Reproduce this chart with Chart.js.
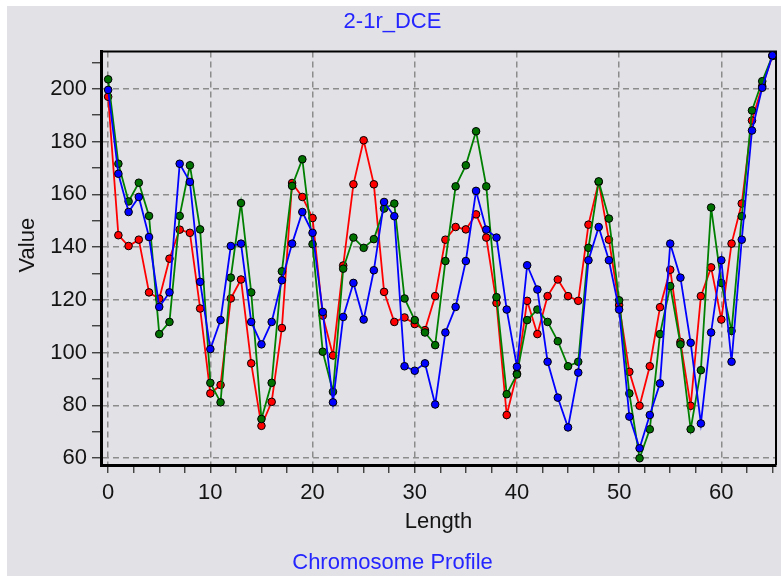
<!DOCTYPE html>
<html><head><meta charset="utf-8">
<script src="https://cdn.jsdelivr.net/npm/chart.js@4/dist/chart.umd.min.js"></script>
<style>html,body{margin:0;padding:0;background:#fff;overflow:hidden}#c{display:block}</style>
</head><body>
<canvas id="c" width="781" height="576"></canvas>
<script>
// ---- data ----
const lengths = [0,1,2,3,4,5,6,7,8,9,10,11,12,13,14,15,16,17,18,19,20,21,22,23,24,25,26,27,28,29,30,31,32,33,34,35,36,37,38,39,40,41,42,43,44,45,46,47,48,49,50,51,52,53,54,55,56,57,58,59,60,61,62,63,64,65];
const redValues = [197,144.5,140.4,142.8,122.8,120.4,135.6,146.6,145.4,116.7,84.5,87.7,120.5,127.7,95.9,72.2,81.3,109.3,164.3,159.0,151.0,114,98.9,133,163.8,180.5,163.8,123.0,111.6,113.3,110.8,108.5,121.4,142.8,147.6,146.7,152.4,143.6,118.8,76.3,92,119.6,107.0,121.4,127.7,121.4,119.6,148.5,164.7,142.8,118,92.7,79.8,94.8,117.2,131.4,104,79.8,121.4,132.3,112.5,141.3,156.5,188,201,212.5];
const greenValues = [203.6,171.6,157.3,164.4,151.8,107.0,111.6,151.8,171.0,146.7,88.5,81.1,128.4,156.7,122.8,74.8,88.5,130.8,163.2,173.3,141.1,100.3,85.1,131.8,143.6,139.7,143.0,154.6,156.5,120.5,112.3,107.6,102.8,134.7,163.0,171.0,183.9,163.0,121,84.2,91.7,112.3,116.3,111.6,104.3,94.8,96.5,139.7,164.9,150.8,119.8,84.5,59.9,70.9,107.0,125.2,103.1,70.9,93.3,155.0,126.4,108.2,151.7,191.8,202.9,212.5];
const blueValues = [199.6,167.8,153.3,159.0,143.8,117.3,122.8,171.6,164.7,126.8,101.3,112.3,140.4,141.3,111.6,103.1,111.6,127.4,141.3,153.3,145.4,115.4,81.1,113.5,126.4,112.5,131.2,157.1,151.7,94.8,93.1,95.9,80.3,107.6,117.3,134.7,161.3,146.6,143.6,116.3,94.6,133.1,123.9,96.5,82.9,71.6,92.4,135.0,147.6,135.0,116.3,75.7,63.7,76.3,88.3,141.3,128.4,103.7,73.1,107.6,135.0,96.5,142.8,184.2,200.4,212.7];
const xTickValues = [0,2.5,5,7.5,10,12.5,15,17.5,20,22.5,25,27.5,30,32.5,35,37.5,40,42.5,45,47.5,50,52.5,55,57.5,60,62.5,65];
const xLabelValues = [0,10,20,30,40,50,60];
const yTickValues = [60,70,80,90,100,110,120,130,140,150,160,170,180,190,200,210];
const yLabelValues = [60,80,100,120,140,160,180,200];

const FONT = '"Liberation Sans", Arial, sans-serif';
const BG = '#e1e1e6';
const toPoints = vals => lengths.map((x, i) => ({x: x, y: vals[i]}));

const bgPlugin = {
  id: 'bg',
  beforeDraw(chart) {
    const ctx = chart.ctx;
    ctx.save();
    ctx.fillStyle = '#ffffff';
    ctx.fillRect(0, 0, chart.width, chart.height);
    ctx.fillStyle = BG;
    ctx.fillRect(7, 6, chart.width - 7, chart.height - 6);
    ctx.restore();
  },
  beforeDatasetsDraw(chart) {
    const a = chart.chartArea, ctx = chart.ctx;
    ctx.save();
    ctx.strokeStyle = '#000';
    ctx.lineWidth = 2;
    ctx.beginPath();
    ctx.moveTo(a.left, a.top);
    ctx.lineTo(a.right, a.top);
    ctx.lineTo(a.right, a.bottom);
    ctx.stroke();
    ctx.restore();
  },
  afterDraw(chart) {
    const ctx = chart.ctx, a = chart.chartArea;
    ctx.save();
    ctx.translate(28, (a.top + a.bottom) / 2 - 13);
    ctx.rotate(-Math.PI / 2);
    ctx.font = '22px ' + FONT;
    ctx.fillStyle = '#141414';
    ctx.textAlign = 'center';
    ctx.textBaseline = 'middle';
    ctx.fillText('Value', 0, 0);
    ctx.restore();
  }
};

function ds(label, vals, line, fill) {
  return {
    label: label, data: toPoints(vals), borderColor: line, backgroundColor: fill,
    borderWidth: 1.8, pointRadius: 3.8, pointBackgroundColor: fill, pointBorderColor: '#000',
    pointBorderWidth: 1, tension: 0, clip: 8
  };
}

new Chart(document.getElementById('c'), {
  type: 'line',
  data: {
    datasets: [
      ds('Blue', blueValues, '#0000ff', '#0000ff'),
      ds('Green', greenValues, '#008000', '#007000'),
      ds('Red', redValues, '#ff0000', '#ff0000')
    ]
  },
  plugins: [bgPlugin],
  options: {
    responsive: false, devicePixelRatio: 1, animation: false,
    layout: { padding: { left: 7, right: 3, top: 0, bottom: 0 } },
    plugins: {
      legend: { display: false }, tooltip: { enabled: false },
      title: { display: true, text: '2-1r_DCE', color: '#2525ff', font: { family: FONT, size: 22, weight: 'normal' }, padding: { top: 9, bottom: 16 } },
      subtitle: { display: true, position: 'bottom', text: 'Chromosome Profile', color: '#2525ff', font: { family: FONT, size: 22, weight: 'normal' }, padding: { top: 8, bottom: 0 } }
    },
    scales: {
      x: {
        type: 'linear', min: -0.7, max: 65.35,
        afterBuildTicks: s => { s.ticks = xTickValues.map(v => ({ value: v })); },
        afterFit: s => { s.height = 76.6; },
        ticks: { autoSkip: false, maxRotation: 0, padding: 7, color: '#141414', font: { family: FONT, size: 22 },
          callback: v => xLabelValues.includes(v) ? String(v) : '' },
        grid: { color: c => (c.tick && xLabelValues.includes(c.tick.value)) ? '#8c8c8c' : 'rgba(0,0,0,0)',
          lineWidth: 1.5, tickColor: '#333', tickLength: 8, tickWidth: 1.3 },
        border: { display: true, color: '#000', width: 3, dash: [6, 4] },
        title: { display: true, text: 'Length', color: '#141414', font: { family: FONT, size: 22 }, padding: { top: 0, bottom: 6 } }
      },
      y: {
        type: 'linear', min: 57.35, max: 214.2,
        afterBuildTicks: s => { s.ticks = yTickValues.map(v => ({ value: v })); },
        afterFit: s => { s.width = 94; },
        ticks: { autoSkip: false, padding: 5, color: '#141414', font: { family: FONT, size: 22 },
          callback: v => yLabelValues.includes(v) ? String(v) : '' },
        grid: { color: c => (c.tick && yLabelValues.includes(c.tick.value)) ? '#8c8c8c' : 'rgba(0,0,0,0)',
          lineWidth: 1.5, tickColor: '#333', tickLength: 9, tickWidth: 1.3 },
        border: { display: true, color: '#000', width: 3, dash: [6, 4] }
      }
    }
  }
});
</script>
</body></html>
